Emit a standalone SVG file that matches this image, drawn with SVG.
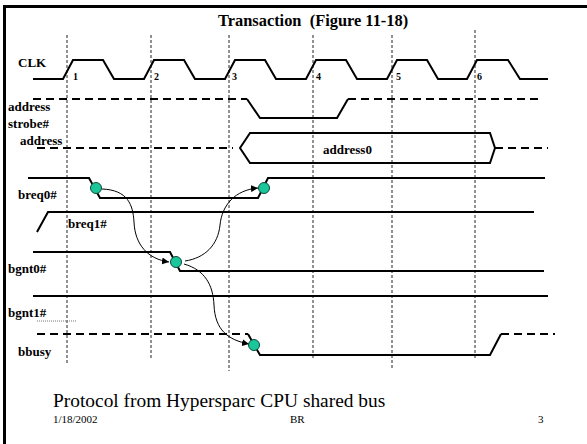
<svg xmlns="http://www.w3.org/2000/svg" width="587" height="444" viewBox="0 0 587 444">
<style>
.bg{fill:#ffffff}
.frame{stroke:#000;stroke-width:3;fill:none}
.grid{stroke:#222;stroke-width:1;stroke-dasharray:3,2;fill:none}
.w{stroke:#000;stroke-width:2;fill:none;stroke-linejoin:miter}
.d{stroke:#000;stroke-width:2;fill:none;stroke-dasharray:8,5}
.c{stroke:#000;stroke-width:1;fill:none}
.dot{fill:#1bc79a;stroke:#0a4a3a;stroke-width:1}
.lbl{font-family:"Liberation Serif","Times New Roman",serif;font-weight:bold;font-size:13px;fill:#000}
.num{font-family:"Liberation Serif","Times New Roman",serif;font-weight:bold;font-size:10px;fill:#000}
.title{font-family:"Liberation Serif","Times New Roman",serif;font-weight:bold;font-size:16.4px;fill:#000;white-space:pre}
.foot{font-family:"Liberation Serif","Times New Roman",serif;font-size:19.4px;fill:#000}
.small{font-family:"Liberation Serif","Times New Roman",serif;font-size:11px;fill:#000}
</style>
<defs>
<marker id="arr" viewBox="0 0 10 10" refX="10" refY="5" markerWidth="7" markerHeight="7" markerUnits="userSpaceOnUse" orient="auto">
<path d="M0,0 L10,5 L0,10 z" fill="#000"/>
</marker>
</defs>
<rect class="bg" x="0" y="0" width="587" height="444"/>
<g id="frame">
<line class="frame" x1="3" y1="6.5" x2="587" y2="6.5"/>
<line class="frame" x1="4.5" y1="5" x2="4.5" y2="444"/>
</g>
<g id="title"><text class="title" x="218" y="26" xml:space="preserve">Transaction  (Figure 11-18)</text></g>
<g id="gridlines">
<line class="grid" x1="67" y1="35" x2="67" y2="365"/>
<line class="grid" x1="151" y1="35" x2="151" y2="360"/>
<line class="grid" x1="229" y1="35" x2="229" y2="371"/>
<line class="grid" x1="313" y1="35" x2="313" y2="360"/>
<line class="grid" x1="392" y1="35" x2="392" y2="370"/>
<line class="grid" x1="475" y1="30" x2="475" y2="360"/>
</g>
<g id="clk">
<text class="lbl" x="18" y="67">CLK</text>
<path class="w" d="M33,79 L63,79 L73,60 L103,60 L114,79 L144,79 L154,60 L184,60 L195,79 L225,79 L235,60 L265,60 L276,79 L306,79 L316,60 L346,60 L357,79 L387,79 L397,60 L427,60 L438,79 L467,79 L477,60 L508,60 L520,79 L548,79"/>
<text class="num" x="73" y="80">1</text>
<text class="num" x="154" y="80">2</text>
<text class="num" x="232" y="80">3</text>
<text class="num" x="316" y="80">4</text>
<text class="num" x="396" y="80">5</text>
<text class="num" x="477" y="80">6</text>
</g>
<g id="address-strobe">
<text class="lbl" x="8" y="111">address</text>
<text class="lbl" x="8" y="128">strobe#</text>
<line class="d" x1="33" y1="99" x2="247" y2="99"/>
<path class="w" d="M247,99 L260,118 L337,118 L348,99"/>
<line class="d" x1="348" y1="99" x2="543" y2="99"/>
</g>
<g id="address">
<text class="lbl" x="20" y="145">address</text>
<line class="d" x1="37" y1="148" x2="233" y2="148"/>
<path class="w" d="M250,133 L240,148 L250,163 L490,163 L495,148 L490,133 Z"/>
<line class="d" x1="495" y1="148" x2="548" y2="148"/>
<text class="lbl" x="323" y="154">address0</text>
</g>
<g id="breq0">
<text class="lbl" x="18" y="199">breq0#</text>
<path class="w" d="M28,178 L89,178 L100,198 L258,198 L268,178 L545,178"/>
</g>
<g id="breq1">
<text class="lbl" x="68" y="228">breq1#</text>
<path class="w" d="M37,232 L48,212 L534,212"/>
</g>
<g id="bgnt0">
<text class="lbl" x="8" y="273">bgnt0#</text>
<path class="w" d="M33,252 L170,252 L180,271 L544,271"/>
</g>
<g id="bgnt1">
<text class="lbl" x="8" y="317">bgnt1#</text>
<line x1="37" y1="321" x2="77" y2="321" stroke="#777" stroke-width="1" stroke-dasharray="1,1"/>
<line class="w" x1="33" y1="296" x2="548" y2="296"/>
</g>
<g id="bbusy">
<text class="lbl" x="18" y="356">bbusy</text>
<line class="d" x1="37" y1="334" x2="248" y2="334"/>
<path class="w" d="M248,334 L260,355 L490,355 L501,334"/>
<line class="d" x1="501" y1="334" x2="555" y2="334"/>
</g>
<g id="connectors">
<path class="c" marker-end="url(#arr)" d="M102,189 C128,190 133,205 134,222 C135,245 148,259 169,262"/>
<path class="c" marker-end="url(#arr)" d="M185,261 C205,258 218,245 220,225 C222,205 235,190 258,188"/>
<path class="c" marker-end="url(#arr)" d="M184,264 C205,270 213,285 214,305 C215,330 228,340 249,344"/>
</g>
<g id="events">
<circle class="dot" cx="96" cy="188" r="5.5"/>
<circle class="dot" cx="264" cy="188" r="5.5"/>
<circle class="dot" cx="176" cy="262" r="5.5"/>
<circle class="dot" cx="254" cy="345" r="5.5"/>
</g>
<g id="footer">
<text class="foot" x="53" y="407">Protocol from Hypersparc CPU shared bus</text>
<text class="small" x="53" y="423">1/18/2002</text>
<text class="small" x="290" y="423">BR</text>
<text class="small" x="538" y="423">3</text>
</g>
</svg>
